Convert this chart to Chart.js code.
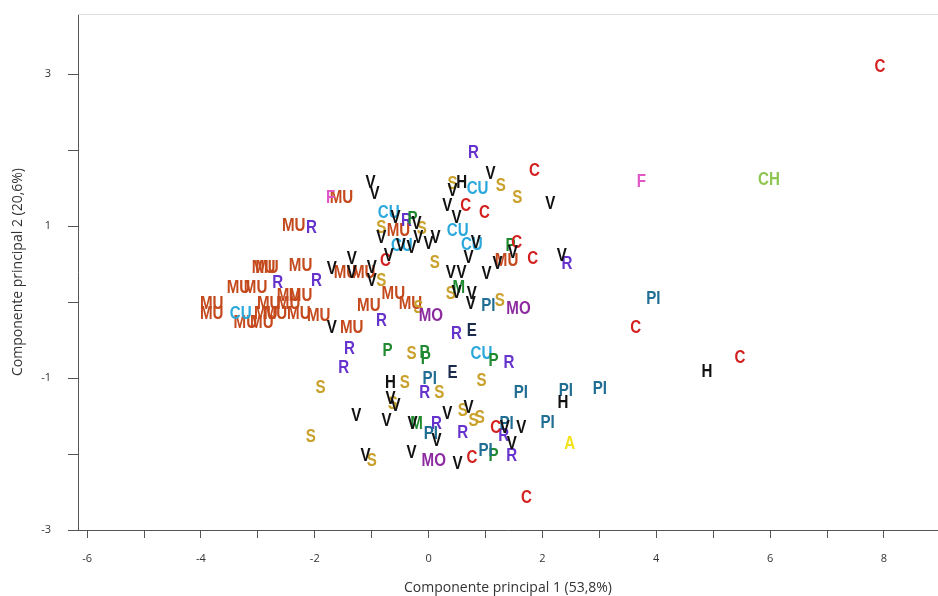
<!DOCTYPE html>
<html>
<head>
<meta charset="utf-8">
<script src="https://cdn.jsdelivr.net/npm/chart.js@4.4.1/dist/chart.umd.min.js"></script>
<style>
  body { margin: 0; background: #fff; }
  #wrap { width: 938px; height: 596px; }
</style>
</head>
<body>
<div id="wrap"><canvas id="pca" width="938" height="596"></canvas></div>
<script>
// etiquetas de grupo y colores
const grupos = ['MU', 'CU', 'S', 'R', 'P', 'M', 'PI', 'MO', 'E', 'C', 'H', 'F', 'CH', 'A', 'V'];
const colores = ['#c4491c', '#2aa8dc', '#c9a12c', '#6634cc', '#1f8a2f', '#1f8a2f', '#216e94', '#8c2aa0', '#1b2b4d', '#d3201f', '#111111', '#e056c6', '#8fc552', '#f3e21b', '#111111'];

// puntuaciones (CP1, CP2) por grupo
const ptsMU = [[-1.53, 1.38], [-2.37, 1.01], [-0.53, 0.95], [1.37, 0.55], [-2.90, 0.46], [-2.84, 0.46], [-2.25, 0.49], [-1.46, 0.39], [-1.14, 0.39], [-3.34, 0.20], [-3.04, 0.20], [-2.46, 0.09], [-2.25, 0.09], [-3.81, -0.01], [-2.81, -0.01], [-2.46, -0.01], [-3.81, -0.14], [-2.86, -0.14], [-2.69, -0.14], [-2.28, -0.14], [-1.93, -0.17], [-3.22, -0.26], [-2.93, -0.26], [-1.35, -0.33], [-1.05, -0.04], [-0.62, 0.12], [-0.32, -0.01]];
const ptsCU = [[0.86, 1.50], [-0.70, 1.18], [0.51, 0.95], [0.76, 0.76], [-0.47, 0.75], [-3.30, -0.14], [0.93, -0.67]];
const ptsS = [[0.42, 1.57], [1.27, 1.54], [1.56, 1.38], [-0.83, 0.99], [-0.12, 0.97], [0.11, 0.53], [-0.83, 0.29], [-0.18, -0.07], [0.39, 0.12], [1.25, 0.03], [-0.30, -0.67], [0.93, -1.03], [-0.42, -1.05], [0.19, -1.18], [-1.90, -1.12], [-2.07, -1.76], [-0.63, -1.33], [0.60, -1.42], [0.79, -1.55], [0.90, -1.51], [-1.00, -2.08]];
const ptsR = [[0.79, 1.97], [-2.06, 0.99], [-0.39, 1.08], [-2.65, 0.26], [-1.97, 0.29], [2.43, 0.51], [-0.83, -0.24], [0.49, -0.41], [-1.39, -0.61], [-1.49, -0.86], [1.41, -0.79], [-0.07, -1.18], [0.14, -1.59], [0.60, -1.71], [1.32, -1.75], [1.46, -2.01]];
const ptsP = [[1.44, 0.75], [-0.28, 1.11], [-0.72, -0.63], [-0.07, -0.66], [-0.05, -0.74], [1.14, -0.76], [1.14, -2.01]];
const ptsM = [[0.53, 0.20], [-0.21, -1.59]];
const ptsPI = [[3.95, 0.05], [1.05, -0.04], [0.02, -1.00], [1.62, -1.18], [2.41, -1.16], [3.01, -1.13], [2.09, -1.58], [1.37, -1.59], [0.04, -1.72], [1.00, -1.95]];
const ptsMO = [[0.04, -0.17], [1.58, -0.08], [0.09, -2.08]];
const ptsE = [[0.76, -0.37], [0.42, -0.92]];
const ptsC = [[7.93, 3.11], [1.86, 1.74], [0.65, 1.28], [0.98, 1.18], [1.55, 0.79], [1.83, 0.58], [-0.76, 0.55], [3.64, -0.33], [5.47, -0.72], [1.18, -1.64], [0.76, -2.04], [1.72, -2.57]];
const ptsH = [[0.58, 1.58], [-0.67, -1.05], [2.36, -1.32], [4.89, -0.91]];
const ptsF = [[-1.72, 1.38], [3.74, 1.59]];
const ptsCH = [[5.98, 1.62]];
const ptsA = [[2.48, -1.86]];
const ptsV = [[-1.02, 1.58], [-0.95, 1.43], [1.09, 1.70], [2.14, 1.30], [0.42, 1.47], [0.33, 1.28], [0.49, 1.12], [-0.58, 1.12], [-0.21, 1.04], [-0.83, 0.86], [-0.49, 0.75], [-0.30, 0.72], [-0.18, 0.86], [0.00, 0.78], [0.12, 0.86], [0.83, 0.79], [0.70, 0.59], [-0.70, 0.62], [0.39, 0.39], [0.58, 0.39], [1.02, 0.38], [1.21, 0.51], [1.48, 0.66], [2.34, 0.62], [-1.35, 0.58], [-1.35, 0.39], [-1.00, 0.46], [-1.00, 0.29], [-1.70, 0.45], [0.49, 0.13], [0.76, 0.12], [0.74, -0.01], [-1.70, -0.33], [-0.67, -1.26], [-0.58, -1.36], [-1.27, -1.49], [-0.74, -1.55], [-0.28, -1.59], [0.33, -1.46], [0.70, -1.38], [0.14, -1.82], [1.63, -1.64], [1.46, -1.86], [-1.11, -2.01], [-0.30, -1.97], [0.51, -2.12], [1.34, -1.64]];

const puntos = [ptsMU, ptsCU, ptsS, ptsR, ptsP, ptsM, ptsPI, ptsMO, ptsE, ptsC, ptsH, ptsF, ptsCH, ptsA, ptsV];

const ejeX = { min: -6.16, max: 8.95, titulo: 'Componente principal 1 (53,8%)' };
const ejeY = { min: -3.0, max: 3.79, titulo: 'Componente principal 2 (20,6%)' };

// dibuja cada punto como su etiqueta de texto
const etiquetas = {
    id: 'etiquetas',
    afterDatasetsDraw(chart) {
        const ctx = chart.ctx;
        ctx.save();
        ctx.font = 'bold 18px "Liberation Sans", Arial, sans-serif';
        ctx.textAlign = 'center';
        ctx.textBaseline = 'middle';
        chart.data.datasets.forEach((ds, i) => {
            const meta = chart.getDatasetMeta(i);
            ctx.fillStyle = ds.borderColor;
            meta.data.forEach(pt => {
                ctx.save();
                ctx.translate(pt.x, pt.y);
                ctx.scale(0.84, 1);
                ctx.fillText(ds.label, 0, 1);
                ctx.restore();
            });
        });
        ctx.restore();
    }
};

// linea superior del marco
const marco = {
    id: 'marco',
    beforeDatasetsDraw(chart) {
        const { ctx, chartArea } = chart;
        ctx.save();
        ctx.strokeStyle = '#dcdcdc';
        ctx.lineWidth = 1;
        ctx.beginPath();
        ctx.moveTo(chartArea.left, chartArea.top + 0.5);
        ctx.lineTo(chartArea.right, chartArea.top + 0.5);
        ctx.stroke();
        ctx.restore();
    }
};

new Chart(document.getElementById('pca').getContext('2d'), {
    type: 'scatter',
    data: {
        datasets: grupos.map((g, i) => ({
            label: g,
            data: puntos[i].map(p => ({ x: p[0], y: p[1] })),
            borderColor: colores[i],
            backgroundColor: colores[i],
            pointRadius: 0,
            pointHoverRadius: 0
        }))
    },
    options: {
        responsive: false,
        animation: false,
        events: [],
        layout: { padding: { top: 14, right: 0, left: 0, bottom: 0 } },
        plugins: {
            legend: { display: false },
            tooltip: { enabled: false }
        },
        scales: {
            x: {
                min: ejeX.min,
                max: ejeX.max,
                afterFit: s => { s.height = 66; s.paddingLeft = 0; s.paddingRight = 0; },
                border: { display: true, color: '#555', width: 1 },
                grid: { drawOnChartArea: false, drawTicks: true, tickLength: 8, color: '#555' },
                ticks: {
                    stepSize: 1,
                    includeBounds: false,
                    autoSkip: false,
                    maxRotation: 0,
                    padding: 14,
                    color: '#333',
                    font: { family: '"Open Sans", sans-serif', size: 11 },
                    callback: v => (Math.round(v) % 2 === 0 ? String(Math.round(v)) : '')
                },
                title: {
                    display: true,
                    text: ejeX.titulo,
                    color: '#333',
                    font: { family: '"Open Sans", sans-serif', size: 14 },
                    padding: { top: 4, bottom: 0 }
                }
            },
            y: {
                min: ejeY.min,
                max: ejeY.max,
                afterFit: s => { s.width = 78; s.paddingTop = 0; s.paddingBottom = 0; },
                border: { display: true, color: '#555', width: 1 },
                grid: { drawOnChartArea: false, drawTicks: true, tickLength: 10, color: '#555' },
                ticks: {
                    stepSize: 1,
                    includeBounds: false,
                    autoSkip: false,
                    padding: 17,
                    color: '#333',
                    font: { family: '"Open Sans", sans-serif', size: 11 },
                    callback: v => (Math.abs(Math.round(v)) % 2 === 1 ? String(Math.round(v)) : '')
                },
                title: {
                    display: true,
                    text: ejeY.titulo,
                    color: '#333',
                    font: { family: '"Open Sans", sans-serif', size: 14 },
                    padding: { top: 10, bottom: 0 }
                }
            }
        }
    },
    plugins: [marco, etiquetas]
});
</script>
</body>
</html>
